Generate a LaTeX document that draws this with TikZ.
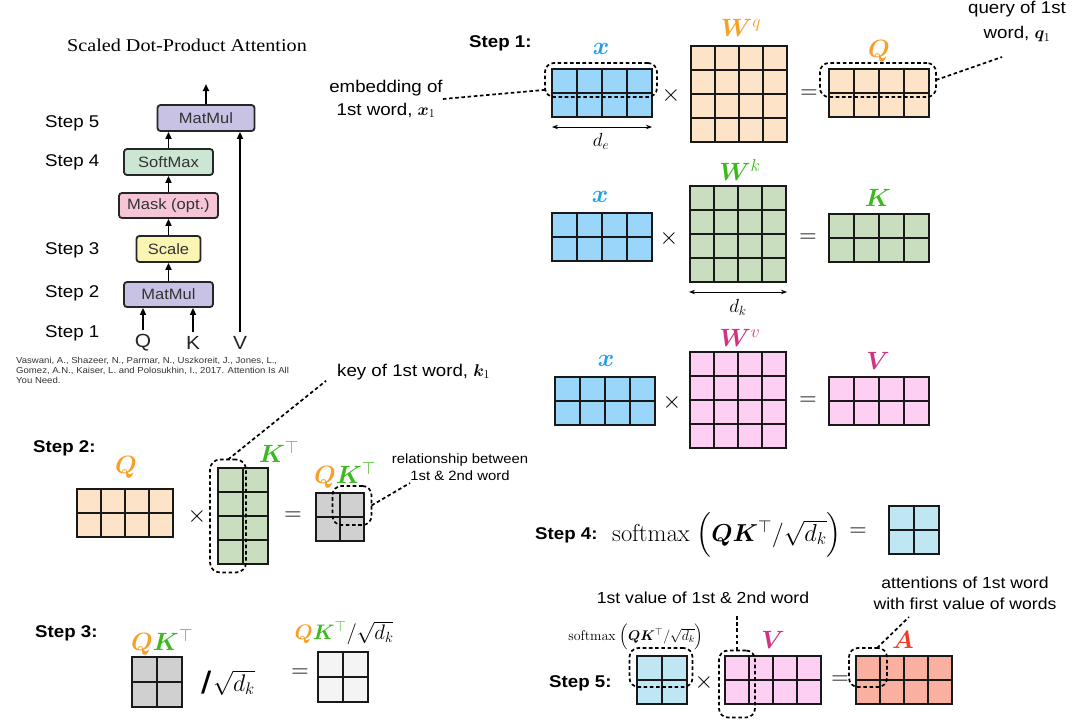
\RequirePackage{fix-cm}
\documentclass[tikz,border=0pt]{standalone}
\usepackage{amsmath,bm}
\usepackage[no-math]{fontspec}
\setmainfont{Liberation Sans}[FakeStretch=1.1]
\newfontfamily\titlefont{Liberation Serif}[FakeStretch=1.12]
\newfontfamily\slashfont{DejaVu Sans}
\usetikzlibrary{arrows.meta,calc}
\definecolor{xfill}{RGB}{153,214,250}
\definecolor{peach}{RGB}{253,227,200}
\definecolor{kfill}{RGB}{200,222,190}
\definecolor{vfill}{RGB}{253,207,242}
\definecolor{grayf}{RGB}{208,208,208}
\definecolor{lightf}{RGB}{244,244,244}
\definecolor{cyanf}{RGB}{190,230,243}
\definecolor{salmon}{RGB}{249,176,160}
\definecolor{xblue}{RGB}{30,160,240}
\definecolor{qorange}{RGB}{247,160,40}
\definecolor{kgreen}{RGB}{60,185,30}
\definecolor{vmag}{RGB}{210,50,130}
\definecolor{ared}{RGB}{240,60,40}
\definecolor{lav}{RGB}{200,194,228}
\definecolor{softg}{RGB}{203,230,210}
\definecolor{maskp}{RGB}{246,198,216}
\definecolor{scaley}{RGB}{251,245,180}
% #1 name, #2 x, #3 y (top-left), #4 cols, #5 rows, #6 cell w, #7 cell h, #8 fill
\newcommand{\gridmat}[8]{%
  \node[matbox,fill=#8,minimum width={#4*#6},minimum height={#5*#7},anchor=north west] (#1) at (#2,#3) {};
  \pgfmathtruncatemacro{\gmc}{#4-1}\pgfmathtruncatemacro{\gmr}{#5-1}%
  \foreach \gi in {1,...,\gmc}{\draw[matline] ({#2+\gi*#6},#3) -- ++(0,{#5*#7});}
  \foreach \gi in {1,...,\gmr}{\draw[matline] (#2,{#3+\gi*#7}) -- ++({#4*#6},0);}
}
\begin{document}
\begin{tikzpicture}[x=1pt,y=-1pt,
  matline/.style={line width=2.2pt, draw=black!90},
  matbox/.style={draw=black!90, line width=2.2pt, inner sep=0pt, outer sep=0pt},
  dbox/.style={draw=black, line width=1.7pt, dash pattern=on 3.6pt off 2.6pt, rounded corners=9pt, inner sep=0pt, outer sep=0pt},
  dline/.style={line width=1.7pt, dash pattern=on 3.6pt off 2.6pt},
  opbox/.style={draw=black!85, line width=1.8pt, rounded corners=3pt, inner sep=0pt, font=\fontsize{15}{17}\selectfont, text=black!80},
  arr/.style={-{Triangle[length=7pt,width=6pt]}, line width=1.8pt},
  dimarr/.style={{Stealth[length=6pt,width=4.5pt]}-{Stealth[length=6pt,width=4.5pt]}, line width=0.9pt},
  steplbl/.style={font=\fontsize{17}{20}\selectfont, anchor=west, inner sep=0pt},
  boldstep/.style={font=\fontsize{17}{20}\selectfont\bfseries, anchor=west, inner sep=0pt},
  note/.style={font=\fontsize{16}{21}\selectfont, align=center, inner sep=0pt},
  mlab/.style={font=\fontsize{25}{28}\selectfont, inner sep=0pt},
  op/.style={font=\fontsize{24}{28}\selectfont, inner sep=0pt},
  qkv/.style={font=\fontsize{19}{22}\selectfont, inner sep=0pt, text=black!85},
]
\fill[white] (0,0) rectangle (1080,720);
\useasboundingbox (0,0) rectangle (1080,720);

% ---------- left panel ----------
\node[font={\titlefont\fontsize{18}{20}\selectfont}, inner sep=0pt] (title) at (187,45) {Scaled Dot-Product Attention};
\node[steplbl] (l5) at (45,123) {Step 5};
\node[steplbl] (l4) at (45,162) {Step 4};
\node[steplbl] (l3) at (45,250) {Step 3};
\node[steplbl] (l2) at (45,293) {Step 2};
\node[steplbl] (l1) at (45,333) {Step 1};
\node[opbox, fill=lav, minimum width=97, minimum height=26] (mm2) at (206,118) {MatMul};
\node[opbox, fill=softg, minimum width=89, minimum height=26] (sm) at (168.5,162) {SoftMax};
\node[opbox, fill=maskp, minimum width=99, minimum height=25] (mask) at (168.5,205.5) {Mask (opt.)};
\node[opbox, fill=scaley, minimum width=64, minimum height=26] (scl) at (168.5,249) {Scale};
\node[opbox, fill=lav, minimum width=89, minimum height=25] (mm1) at (168.5,294.5) {MatMul};
\node[qkv] (qin) at (143,343) {Q};
\node[qkv] (kin) at (193,343) {K};
\node[qkv] (vin) at (240,343) {V};
\draw[arr] ([yshift=4pt]qin.north) -- (qin.north |- mm1.south);
\draw[arr] ([yshift=4pt]kin.north) -- (kin.north |- mm1.south);
\draw[arr] ([yshift=4pt]vin.north) -- (vin.north |- mm2.south);
\draw[arr] (mm1.north) -- (scl.south);
\draw[arr] (scl.north) -- (mask.south);
\draw[arr] (mask.north) -- (sm.south);
\draw[arr] (sm.north) -- (sm.north |- mm2.south);
\coordinate (outtop) at (206,84);
\draw[arr] (mm2.north) -- (outtop);
\node[font=\fontsize{8.7}{10}\selectfont, align=left, anchor=north west, inner sep=0pt, text=black!80] (cite) at (16,357) {Vaswani, A., Shazeer, N., Parmar, N., Uszkoreit, J., Jones, L.,\\Gomez, A.N., Kaiser, L. and Polosukhin, I., 2017. Attention Is All\\You Need.};

% ---------- Step 1 ----------
\node[boldstep] (s1) at (469,43) {Step 1:};
\gridmat{xa}{552}{69}{4}{2}{25}{24}{xfill}
\node[mlab, text=xblue] (xalab) at (601,49) {$\bm{x}$};
\node[op] (t1) at (671,95) {$\times$};
\gridmat{wq}{691}{46}{4}{4}{24}{24}{peach}
\node[mlab, text=qorange] (wqlab) at (741,28) {$\bm{W}^{q}$};
\node[op] (e1) at (809,94) {$=$};
\gridmat{qm}{829}{69}{4}{2}{25}{24}{peach}
\node[mlab, text=qorange] (qlab) at (879,51) {$\bm{Q}$};
\node[dbox, minimum width=112, minimum height=34] (dxa) at (601,80) {};
\node[dbox, minimum width=116, minimum height=34] (dq) at (878,80) {};
\node[note, font=\fontsize{17}{23}\selectfont] (emb) at (386,99) {embedding of\\1st word, $\bm{x}_1$};
\draw[dline] (emb.east) -- (dxa.190);
\node[note, font=\fontsize{17}{25}\selectfont] (qry) at (1017,22) {query of 1st\\word, $\bm{q}_1$};
\coordinate (qend) at (1002,57);
\draw[dline] (dq.east) -- (qend);
\draw[dimarr] ($(xa.south west)+(0,10)$) -- ($(xa.south east)+(0,10)$);
\node[font=\fontsize{19}{21}\selectfont, inner sep=0pt] (de) at (601,141) {$d_e$};

% ---------- K row ----------
\gridmat{xb}{552}{213}{4}{2}{25}{24}{xfill}
\node[mlab, text=xblue] (xblab) at (600,197) {$\bm{x}$};
\node[op] (t2) at (669,238) {$\times$};
\gridmat{wk}{690}{186}{4}{4}{24}{24}{kfill}
\node[mlab, text=kgreen] (wklab) at (740,170) {$\bm{W}^{k}$};
\draw[dimarr] ($(wk.south west)+(-1,10)$) -- ($(wk.south east)+(1,10)$);
\node[font=\fontsize{19}{21}\selectfont, inner sep=0pt] (dklab) at (738,307) {$d_k$};
\node[op] (e2) at (808,238) {$=$};
\gridmat{km}{829}{214}{4}{2}{25}{24}{kfill}
\node[mlab, text=kgreen] (klab) at (878,198) {$\bm{K}$};

% ---------- V row ----------
\gridmat{xc}{555}{377}{4}{2}{25}{24}{xfill}
\node[mlab, text=xblue] (xclab) at (606,361) {$\bm{x}$};
\node[op] (t3) at (672,402) {$\times$};
\gridmat{wv}{690}{352}{4}{4}{24}{24}{vfill}
\node[mlab, text=vmag] (wvlab) at (740,338) {$\bm{W}^{v}$};
\node[op] (e3) at (808,401) {$=$};
\gridmat{vm}{829}{377}{4}{2}{25}{24}{vfill}
\node[mlab, text=vmag] (vlab) at (878,361) {$\bm{V}$};

% ---------- Step 2 ----------
\node[boldstep] (s2) at (33,448) {Step 2:};
\node[mlab, text=qorange] (q2lab) at (126,467) {$\bm{Q}$};
\gridmat{q2}{77}{489}{4}{2}{24}{24}{peach}
\node[op] (t4) at (197,516) {$\times$};
\gridmat{kt}{218}{468}{2}{4}{25}{24}{kfill}
\node[mlab, text=kgreen] (ktlab) at (279,452) {$\bm{K}^{\top}$};
\node[dbox, minimum width=36, minimum height=113, rounded corners=10pt] (dkt) at (228,516) {};
\node[font=\fontsize{17}{20}\selectfont, inner sep=0pt, anchor=west] (keyl) at (337,372) {key of 1st word, $\bm{k}_1$};
\draw[dline, shorten >=14pt] (dkt.north) -- (keyl.west);
\node[op] (e4) at (293,516) {$=$};
\gridmat{qk}{316}{493}{2}{2}{24}{24}{grayf}
\node[mlab] (qklab) at (345,475) {${\color{qorange}\bm{Q}}{\color{kgreen}\bm{K}^{\top}}$};
\node[dbox, minimum width=39, minimum height=39] (dqk) at (352,505.5) {};
\node[note, font=\fontsize{13.5}{17}\selectfont] (rel) at (460,467) {relationship between\\1st \& 2nd word};
\coordinate (relend) at (410,483);
\draw[dline] (dqk.east) -- (relend);

% ---------- Step 3 ----------
\node[boldstep] (s3) at (35,633) {Step 3:};
\node[mlab] (qk3lab) at (162,642) {${\color{qorange}\bm{Q}}{\color{kgreen}\bm{K}^{\top}}$};
\gridmat{qk3}{132}{657}{2}{2}{25}{25}{grayf}
\node[inner sep=0pt] (div3) at (228,683) {{\slashfont\fontsize{28}{30}\selectfont\bfseries /}\,{\fontsize{24}{28}\selectfont$\sqrt{d_k}$}};
\node[op] (e5) at (300,673) {$=$};
\gridmat{qk3n}{318}{652}{2}{2}{25}{25}{lightf}
\node[font=\fontsize{21}{24}\selectfont, inner sep=0pt] (qk3nlab) at (344,633) {${\color{qorange}\bm{Q}}{\color{kgreen}\bm{K}^{\top}}/\sqrt{d_k}$};

% ---------- Step 4 ----------
\node[boldstep] (s4) at (535,535) {Step 4:};
\node[font=\fontsize{24.5}{28}\selectfont, inner sep=0pt, anchor=west] (sfx) at (612,535) {$\mathrm{softmax}\;\Bigl(\bm{QK}^{\top}/\sqrt{d_k}\Bigr)$};
\node[op] (e6) at (858,532) {$=$};
\gridmat{sa}{889}{506}{2}{2}{25}{24}{cyanf}

% ---------- Step 5 ----------
\node[note] (vall) at (703,598) {1st value of 1st \& 2nd word};
\node[note] (attl) at (965,593) {attentions of 1st word\\with first value of words};
\node[font=\fontsize{14}{16}\selectfont, inner sep=0pt] (sfx2) at (636,637) {$\mathrm{softmax}\;\Bigl(\bm{QK}^{\top}/\sqrt{d_k}\Bigr)$};
\node[boldstep] (s5) at (549,683) {Step 5:};
\gridmat{sb}{637}{656}{2}{2}{25}{24}{cyanf}
\node[dbox, minimum width=63, minimum height=39] (dsb) at (661,667.5) {};
\node[op] (t5) at (704,682) {$\times$};
\node[mlab, text=vmag] (v5lab) at (773,640) {$\bm{V}$};
\gridmat{v5}{725}{656}{4}{2}{24}{24}{vfill}
\node[dbox, minimum width=36, minimum height=67] (dv5) at (737,684) {};
\draw[dline, shorten >=10pt] (dv5.north) -- (dv5.north |- vall.south);
\node[op] (e7) at (840,680) {$=$};
\node[mlab, text=ared] (alab) at (903,640) {$\bm{A}$};
\gridmat{am}{856}{656}{4}{2}{24}{24}{salmon}
\node[dbox, minimum width=38, minimum height=39] (da) at (868,667.5) {};
\coordinate (aend) at (909,617);
\draw[dline] ([xshift=9pt]da.north) -- (aend);
\end{tikzpicture}
\end{document}
